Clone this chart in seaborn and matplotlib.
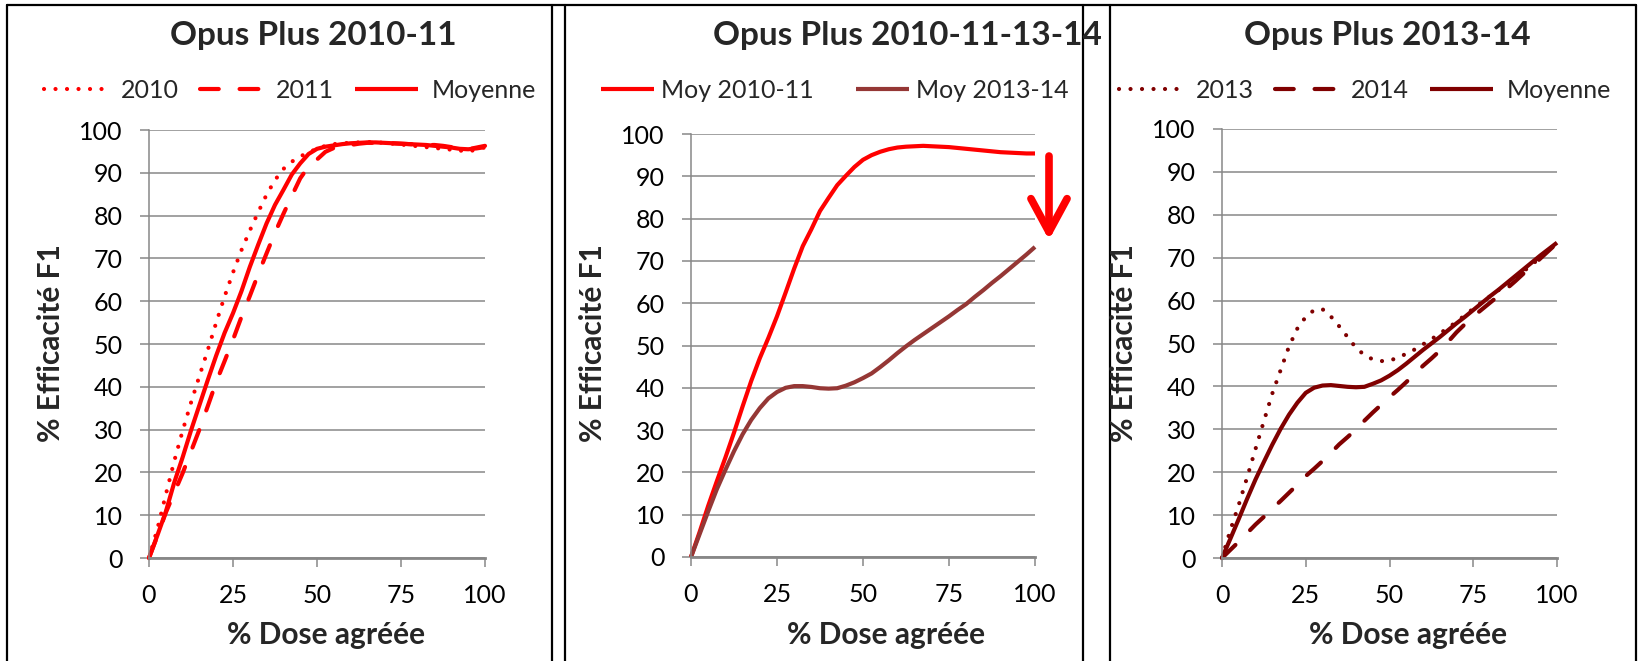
import matplotlib
matplotlib.use("Agg")
import matplotlib.pyplot as plt
import seaborn as sns
import pandas as pd
from matplotlib.lines import Line2D

sns.set_theme(style="white")
plt.rcParams['font.family'] = ['Lato', 'DejaVu Sans']

# ---------------- data ----------------
dose = [0, 2.5, 5, 7.5, 10, 12.5, 15, 17.5, 20, 22.5, 25, 27.5, 30, 32.5, 35, 37.5, 40,
        42.5, 45, 47.5, 50, 52.5, 55, 57.5, 60, 62.5, 65, 67.5, 70, 72.5, 75, 77.5, 80,
        82.5, 85, 87.5, 90, 92.5, 95, 97.5, 100]

p1_2010 = [0, 6.8, 14.8, 22.6, 29.7, 36.3, 42.5, 48.6, 55, 61.1, 66.7, 71.9, 76.5, 80.8, 84.9, 88.3, 90.9,
           92.6, 93.8, 94.8, 95.6, 96.3, 96.7, 96.9, 97, 97.1, 97.2, 97.1, 97, 96.8, 96.6, 96.4, 96.2,
           96, 95.8, 95.6, 95.4, 95.2, 95, 95.4, 96]
p1_2011 = [0, 5.2, 10.6, 15.2, 19.8, 24.9, 30, 35.5, 41.1, 46, 51, 56.3, 61.2, 66.3, 71.2, 76, 80.4,
           84.6, 88.7, 91.5, 93.1, 94.9, 95.8, 96.2, 96.5, 96.8, 97, 97, 97, 96.9, 96.8, 96.7, 96.6,
           96.5, 96.5, 96.3, 96, 95.8, 95.5, 95.9, 96.3]
p1_moy = [0, 5.3, 10.8, 17.6, 23.5, 29.8, 35.7, 41.6, 47.3, 52.6, 57.2, 62.3, 68, 73.2, 78.2, 82.5, 86,
          89.6, 92.2, 94.4, 95.6, 96.1, 96.4, 96.7, 96.9, 97, 97.1, 97.1, 97, 96.9, 96.8, 96.7, 96.6,
          96.5, 96.3, 96.1, 95.9, 95.6, 95.5, 95.7, 96]

p2_moy1011 = [0, 5.9, 12.1, 17.9, 23.5, 29.4, 35.6, 41.6, 47, 51.8, 56.9, 62.5, 68.2, 73.5, 77.5, 81.8, 84.9,
              87.9, 90.1, 92.2, 93.9, 95, 95.8, 96.4, 96.8, 97, 97.1, 97.2, 97.1, 97, 96.9, 96.7, 96.5,
              96.3, 96.1, 95.9, 95.7, 95.6, 95.5, 95.4, 95.4]
p2_moy1314 = [0, 5.4, 10.8, 16, 20.6, 25, 29, 32.4, 35.2, 37.5, 39, 40, 40.4, 40.4, 40.2, 39.9, 39.8,
              39.9, 40.5, 41.3, 42.3, 43.4, 44.9, 46.5, 48.2, 49.8, 51.3, 52.7, 54.1, 55.5, 56.9, 58.4, 59.8,
              61.5, 63.1, 64.8, 66.4, 68.1, 69.8, 71.5, 73.3]

p3_2013 = [0, 6.5, 12.4, 18.8, 25.4, 31.9, 38.3, 43.8, 49.3, 53.5, 56.2, 57.8, 58, 56.3, 54, 51.5, 49,
           47.3, 46.3, 45.9, 46, 46.7, 47.6, 48.6, 49.8, 51, 52.3, 53.7, 55, 56.6, 58.1, 59.6, 61,
           62.4, 63.8, 65.3, 66.8, 68.4, 70, 71.7, 73.5]
p3_2014 = [0, 1.9, 3.8, 5.8, 7.8, 9.6, 11.5, 13.3, 15.2, 17.1, 19.1, 20.8, 22.6, 24.5, 26.5, 28.2, 30,
           32, 33.9, 35.7, 37.5, 39.2, 41, 42.9, 44.8, 46.5, 48.3, 50.4, 52.6, 54.5, 56.3, 57.9, 59.5,
           61.1, 62.8, 64.5, 66.3, 68, 69.8, 71.6, 73.4]
p3_moy = [0, 4.5, 9.1, 13.8, 18.3, 22.4, 26.4, 30.1, 33.4, 36.2, 38.5, 39.7, 40.2, 40.3, 40.1, 39.9, 39.8,
          39.9, 40.6, 41.4, 42.5, 43.8, 45.3, 46.9, 48.5, 50, 51.5, 53.1, 54.7, 56.2, 57.8, 59.4, 61,
          62.5, 64.1, 65.7, 67.3, 68.9, 70.5, 72, 73.5]

titles = ["Opus Plus 2010-11", "Opus Plus 2010-11-13-14", "Opus Plus 2013-14"]
xticks = [0, 25, 50, 75, 100]
yticks = list(range(0, 101, 10))
xlabel = "% Dose agréée"
ylabel = "% Efficacité F1"

RED = "#FF0000"
BROWN = "#953735"
DARK = "#800000"
GRID = "#878787"

W, H = 1638, 661
fig = plt.figure(figsize=(W / 100, H / 100), dpi=100)


def rect(l, t, r, b):
    return [l / W, 1 - b / H, (r - l) / W, (b - t) / H]


LW = 3.0
DOT = dict(linestyle=(0, (0.01, 2.75)), dash_capstyle="round")
DASH = dict(linestyle=(0, (4.5, 5.0)), dash_capstyle="round")
SOLID = dict(linestyle="-", solid_capstyle="butt")

panels = [
    dict(box=(149, 130, 485, 558), title_x=313, leg_x=290, xl_x=326, yl_x=51,
         series=[("2010", p1_2010, RED, DOT), ("2011", p1_2011, RED, DASH), ("Moyenne", p1_moy, RED, SOLID)],
         leg=dict(handlelength=2.5, handletextpad=0.55, columnspacing=0.85)),
    dict(box=(691, 134, 1035, 557), title_x=907, leg_x=835, xl_x=886, yl_x=593,
         series=[("Moy 2010-11", p2_moy1011, RED, SOLID), ("Moy 2013-14", p2_moy1314, BROWN, SOLID)],
         leg=dict(handlelength=2.1, handletextpad=0.3, columnspacing=1.7)),
    dict(box=(1222, 129, 1557, 558), title_x=1387, leg_x=1365, xl_x=1408, yl_x=1124,
         series=[("2013", p3_2013, DARK, DOT), ("2014", p3_2014, DARK, DASH), ("Moyenne", p3_moy, DARK, SOLID)],
         leg=dict(handlelength=2.5, handletextpad=0.55, columnspacing=0.85)),
]

FS = 18
LEGFS = 18
LABFS = 21.5
TITFS = 24

for p, ttl in zip(panels, titles):
    ax = fig.add_axes(rect(*p["box"]))
    for name, vals, col, sty in p["series"]:
        df = pd.DataFrame({"dose": dose, "eff": vals})
        sns.lineplot(data=df, x="dose", y="eff", ax=ax, color=col, linewidth=LW,
                     label=name, clip_on=False, solid_joinstyle="round", **sty)
    ax.set_xlim(0, 100)
    ax.set_ylim(0, 100)
    ax.set_xticks(xticks)
    ax.set_yticks(yticks)
    ax.set_xlabel("")
    ax.set_ylabel("")
    ax.grid(axis="y", color=GRID, linewidth=1.1)
    ax.grid(axis="x", visible=False)
    ax.set_axisbelow(True)
    for s in ["top", "right"]:
        ax.spines[s].set_visible(False)
    ax.spines["left"].set_color(GRID)
    ax.spines["left"].set_linewidth(1.1)
    ax.spines["bottom"].set_color(GRID)
    ax.spines["bottom"].set_linewidth(2.0)
    ax.tick_params(axis="both", direction="out", length=6.5, width=1.1, color=GRID,
                   labelsize=FS, labelcolor="black", pad=12.5, left=True, bottom=True)
    ax.patch.set_alpha(0)
    ax.legend(loc="center", bbox_to_anchor=(p["leg_x"] / W, 1 - 90 / H),
              bbox_transform=fig.transFigure, ncol=len(p["series"]), frameon=False,
              fontsize=LEGFS, borderaxespad=0, borderpad=0, **p["leg"])
    fig.text(p["xl_x"] / W, 1 - 635 / H, xlabel, ha="center", va="center",
             fontsize=LABFS, fontweight="bold")
    fig.text(p["yl_x"] / W, 1 - 343 / H, ylabel, ha="center", va="center",
             rotation=90, fontsize=LABFS, fontweight="bold")
    fig.text(p["title_x"] / W, 1 - 36 / H, ttl, ha="center", va="center",
             fontsize=TITFS, fontweight="bold")

# red arrow in the middle panel
fig.axes[1].annotate(
    "", xy=(1049, H - 240), xytext=(1049, H - 156), xycoords="figure pixels",
    textcoords="figure pixels", annotation_clip=False,
    arrowprops=dict(arrowstyle="->,head_length=1.2,head_width=0.65", color=RED,
                    lw=5.5, mutation_scale=20, shrinkA=0, shrinkB=0))


# panel borders
def fline(x0, y0, x1, y1):
    fig.add_artist(Line2D([x0 / W, x1 / W], [1 - y0 / H, 1 - y1 / H], transform=fig.transFigure,
                          color="black", linewidth=1.6))


fline(7, 5, 1636, 5)
for x in [7, 552, 565, 1083, 1110, 1636]:
    fline(x, 5, x, H + 2)

fig.savefig("out.png", dpi=100)
